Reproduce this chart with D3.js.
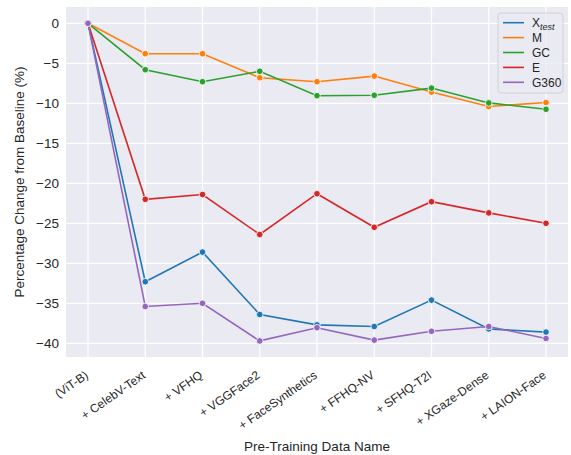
<!DOCTYPE html>
<html>
<head>
<meta charset="utf-8">
<script src="https://cdn.jsdelivr.net/npm/d3@7"></script>
<style>
  html, body { margin: 0; padding: 0; background: #fff; }
  svg { display: block; font-family: "Liberation Sans", Arial, sans-serif; }
</style>
</head>
<body>
<svg id="chart" width="571" height="455"></svg>
<script>
// Pre-training datasets added cumulatively
const categories = ["(ViT-B)", "+ CelebV-Text", "+ VFHQ", "+ VGGFace2", "+ FaceSynthetics",
  "+ FFHQ-NV", "+ SFHQ-T2I", "+ XGaze-Dense", "+ LAION-Face"];

// Percentage change from baseline per evaluation set
const xtest = [0, -32.3, -28.6, -36.4, -37.7, -37.9, -34.6, -38.2, -38.6];
const mSet  = [0, -3.8, -3.8, -6.8, -7.3, -6.6, -8.6, -10.4, -9.9];
const gc    = [0, -5.8, -7.3, -6.0, -9.05, -9.0, -8.1, -9.95, -10.75];
const eSet  = [0, -22.0, -21.4, -26.4, -21.3, -25.5, -22.3, -23.7, -25.0];
const g360  = [0, -35.4, -35.0, -39.7, -38.05, -39.6, -38.5, -37.9, -39.4];

const yTicks = [0, -5, -10, -15, -20, -25, -30, -35, -40];

const series = [
  { name: "X", sub: "test", values: xtest, color: "#1f77b4" },
  { name: "M", values: mSet, color: "#ff7f0e" },
  { name: "GC", values: gc, color: "#2ca02c" },
  { name: "E", values: eSet, color: "#d62728" },
  { name: "G360", values: g360, color: "#9467bd" }
];

const svg = d3.select("#chart");
const plot = { left: 66, right: 568, top: 7, bottom: 357 };

const x = d3.scalePoint().domain(categories).range([88, 546]);
const y = d3.scaleLinear().domain([-40, 0]).range([343.3, 23.3]);

// Axes background
svg.append("rect")
  .attr("x", plot.left).attr("y", plot.top)
  .attr("width", plot.right - plot.left).attr("height", plot.bottom - plot.top)
  .attr("fill", "#eaeaf2");

// Grid lines
const grid = svg.append("g");
grid.selectAll("line.h").data(yTicks).join("line")
  .attr("x1", plot.left).attr("x2", plot.right)
  .attr("y1", d => y(d)).attr("y2", d => y(d))
  .attr("stroke", "#fff").attr("stroke-width", 1.2);
grid.selectAll("line.v").data(categories).join("line")
  .attr("y1", plot.top).attr("y2", plot.bottom)
  .attr("x1", d => x(d)).attr("x2", d => x(d))
  .attr("stroke", "#fff").attr("stroke-width", 1.2);

// Y tick labels
const fmt = v => (v < 0 ? "\u2212" + Math.abs(v) : String(v));
svg.append("g").selectAll("text").data(yTicks).join("text")
  .attr("x", plot.left - 7).attr("y", d => y(d))
  .attr("dy", "0.35em")
  .attr("text-anchor", "end")
  .attr("font-size", 13.5).attr("fill", "#262626")
  .text(fmt);

// X tick labels, rotated
svg.append("g").selectAll("text").data(categories).join("text")
  .attr("transform", d => `translate(${x(d) + 1},${plot.bottom + 20}) rotate(-35)`)
  .attr("text-anchor", "end")
  .attr("font-size", 12).attr("fill", "#262626")
  .text(d => d);

// Axis titles
svg.append("text")
  .attr("x", (plot.left + plot.right) / 2).attr("y", 451)
  .attr("text-anchor", "middle")
  .attr("font-size", 13.5).attr("fill", "#262626")
  .text("Pre-Training Data Name");
svg.append("text")
  .attr("transform", `translate(24,${(plot.top + plot.bottom) / 2}) rotate(-90)`)
  .attr("text-anchor", "middle")
  .attr("font-size", 13.5).attr("fill", "#262626")
  .text("Percentage Change from Baseline (%)");

// Lines and markers
const line = d3.line().x((d, i) => x(categories[i])).y(d => y(d));
series.forEach(s => {
  const g = svg.append("g");
  g.append("path")
    .attr("d", line(s.values))
    .attr("fill", "none")
    .attr("stroke", s.color)
    .attr("stroke-width", 1.6);
  g.selectAll("circle").data(s.values).join("circle")
    .attr("cx", (d, i) => x(categories[i]))
    .attr("cy", d => y(d))
    .attr("r", 3.3)
    .attr("fill", s.color)
    .attr("stroke", "#fff")
    .attr("stroke-width", 0.8);
});

// Legend
const lg = svg.append("g").attr("transform", "translate(498,13)");
lg.append("rect")
  .attr("width", 65).attr("height", 80).attr("rx", 3)
  .attr("fill", "#eaeaf2").attr("fill-opacity", 0.8)
  .attr("stroke", "#cccccc").attr("stroke-width", 0.8);
series.forEach((s, i) => {
  const ry = 9.7 + i * 14.9;
  lg.append("line")
    .attr("x1", 5).attr("x2", 26).attr("y1", ry).attr("y2", ry)
    .attr("stroke", s.color).attr("stroke-width", 1.6);
  const t = lg.append("text")
    .attr("x", 34).attr("y", ry).attr("dy", "0.35em")
    .attr("font-size", 12).attr("fill", "#262626");
  t.append("tspan").text(s.name);
  if (s.sub) {
    t.append("tspan").attr("font-size", 9).attr("font-style", "italic")
      .attr("dy", "0.3em").text(s.sub);
  }
});
</script>
</body>
</html>
